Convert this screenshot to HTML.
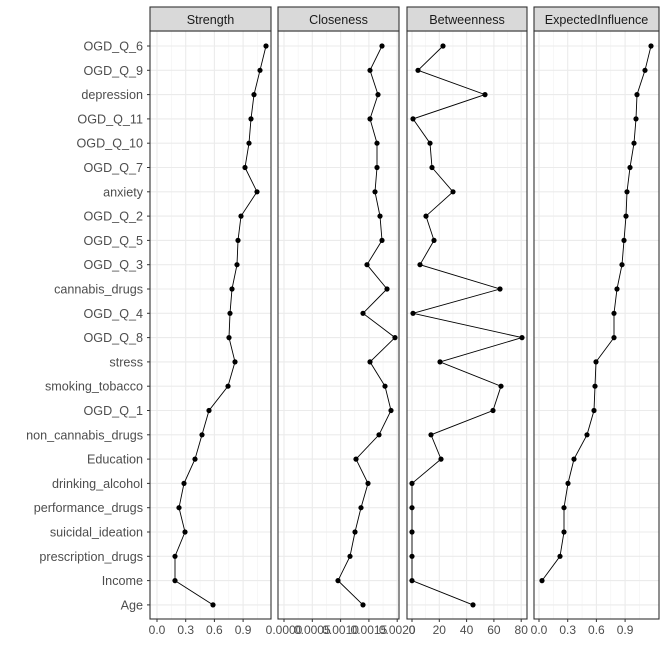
<!DOCTYPE html>
<html><head><meta charset="utf-8"><style>
html,body{margin:0;padding:0;background:#fff;}
svg{display:block;font-family:"Liberation Sans",Arial,sans-serif;}
</style></head><body>
<svg id="s" width="664" height="664" xmlns="http://www.w3.org/2000/svg"></svg>
<script>
(function(){
const S=document.getElementById('s');let h='';
const labels=["OGD_Q_6","OGD_Q_9","depression","OGD_Q_11","OGD_Q_10","OGD_Q_7","anxiety","OGD_Q_2","OGD_Q_5","OGD_Q_3","cannabis_drugs","OGD_Q_4","OGD_Q_8","stress","smoking_tobacco","OGD_Q_1","non_cannabis_drugs","Education","drinking_alcohol","performance_drugs","suicidal_ideation","prescription_drugs","Income","Age"];
const Y=i=>46+i*24.3;
const T=31,B=619;
const panels=[
{x0:150,x1:271,title:"Strength",ticks:[[157,"0.0"],[185.7,"0.3"],[214.4,"0.6"],[243.1,"0.9"]],
 d:[266,260,254,251,249,245,257,241,238,237,232,230,229,235,228,209,202,195,184,179,185,175,175,213]},
{x0:278,x1:399,title:"Closeness",ticks:[[284,"0.0000"],[312.3,"0.0005"],[340.6,"0.0010"],[368.9,"0.0015"],[397.2,"0.0020"]],
 d:[382,370,378,370,377,377,375,380,382,367,387,363,395,370,385,391,379,356,368,361,355,350,338,363]},
{x0:407,x1:527,title:"Betweenness",ticks:[[412,"0"],[439.3,"20"],[466.6,"40"],[493.9,"60"],[521.2,"80"]],
 d:[443,418,485,413,430,432,453,426,434,420,500,413,522,440,501,493,431,441,412,412,412,412,412,473]},
{x0:534,x1:659,title:"ExpectedInfluence",ticks:[[539,"0.0"],[567.7,"0.3"],[596.4,"0.6"],[625.1,"0.9"]],
 d:[651,645,637,636,634,630,627,626,624,622,617,614,614,596,595,594,587,574,568,564,564,560,542,null]}
];
panels.forEach(p=>{
 h+=`<rect x="${p.x0}" y="${T}" width="${p.x1-p.x0}" height="${B-T}" fill="#fff"/>`;
 const sp=p.ticks[1][0]-p.ticks[0][0];
 for(let x=p.ticks[0][0]-sp/2;x<p.x1;x+=sp){if(x>p.x0)h+=`<line x1="${x}" x2="${x}" y1="${T}" y2="${B}" stroke="#f2f2f2" stroke-width="0.6"/>`;}
 p.ticks.forEach(t=>{h+=`<line x1="${t[0]}" x2="${t[0]}" y1="${T}" y2="${B}" stroke="#ebebeb" stroke-width="1.1"/>`;});
 labels.forEach((l,i)=>{h+=`<line x1="${p.x0}" x2="${p.x1}" y1="${Y(i)}" y2="${Y(i)}" stroke="#ebebeb" stroke-width="1.1"/>`;});
 let pts=[];p.d.forEach((v,i)=>{if(v!=null)pts.push(v+","+Y(i).toFixed(1));});
 h+=`<polyline points="${pts.join(' ')}" fill="none" stroke="#000" stroke-width="0.9"/>`;
 p.d.forEach((v,i)=>{if(v!=null)h+=`<circle cx="${v}" cy="${Y(i)}" r="2.6" fill="#000"/>`;});
 h+=`<rect x="${p.x0}" y="${T}" width="${p.x1-p.x0}" height="${B-T}" fill="none" stroke="#333" stroke-width="1.1"/>`;
 h+=`<rect x="${p.x0}" y="7" width="${p.x1-p.x0}" height="${T-7}" fill="#d9d9d9" stroke="#333" stroke-width="1.1"/>`;
 h+=`<text x="${(p.x0+p.x1)/2}" y="24" font-size="12.6" fill="#1a1a1a" text-anchor="middle">${p.title}</text>`;
 p.ticks.forEach(t=>{h+=`<line x1="${t[0]}" x2="${t[0]}" y1="${B}" y2="${B+3}" stroke="#333"/>`;
  h+=`<text x="${t[0]}" y="${B+15}" font-size="12" fill="#4d4d4d" text-anchor="middle">${t[1]}</text>`;});
});
labels.forEach((l,i)=>{h+=`<line x1="147" x2="150" y1="${Y(i)}" y2="${Y(i)}" stroke="#333"/>`;
 h+=`<text x="143" y="${Y(i)+4.5}" font-size="12.6" fill="#4d4d4d" text-anchor="end">${l}</text>`;});
S.innerHTML=h;
})();
</script>
</body></html>
